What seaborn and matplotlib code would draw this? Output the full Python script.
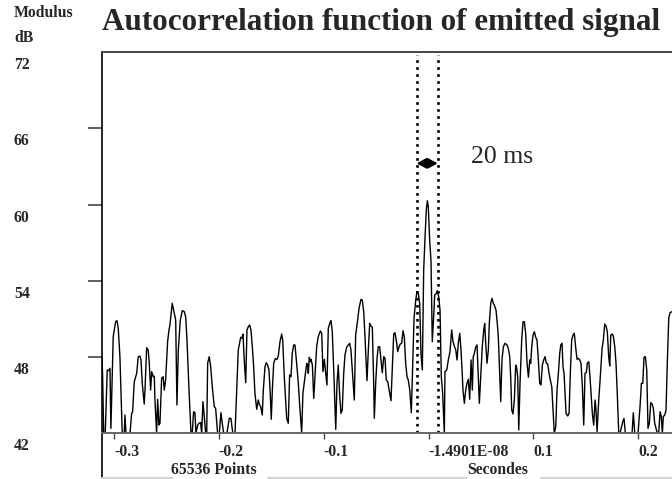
import matplotlib
matplotlib.use("Agg")
import matplotlib.pyplot as plt
import matplotlib.transforms as mtransforms
from matplotlib.lines import Line2D
import pandas as pd
import seaborn as sns

# lag (s) and modulus (dB), clipped at 42 dB
lag_s = [
    -0.3115, -0.3109, -0.3099, -0.3084, -0.3065, -0.3052, -0.3039, -0.3030, -0.3008, -0.2985,
    -0.2972, -0.2960, -0.2944, -0.2922, -0.2903, -0.2896, -0.2886, -0.2848, -0.2832, -0.2823,
    -0.2807, -0.2784, -0.2769, -0.2753, -0.2743, -0.2731, -0.2712, -0.2705, -0.2689, -0.2674,
    -0.2664, -0.2651, -0.2641, -0.2626, -0.2616, -0.2610, -0.2594, -0.2584, -0.2572, -0.2562,
    -0.2546, -0.2531, -0.2521, -0.2508, -0.2489, -0.2476, -0.2467, -0.2445, -0.2432, -0.2412,
    -0.2400, -0.2387, -0.2368, -0.2349, -0.2330, -0.2317, -0.2304, -0.2285, -0.2266, -0.2254,
    -0.2241, -0.2228,
    -0.2219, -0.2202, -0.2190, -0.2174, -0.2164, -0.2152, -0.2139, -0.2126, -0.2116, -0.2107,
    -0.2092, -0.2078, -0.2063, -0.2044, -0.2031, -0.2012, -0.1996, -0.1980, -0.1968, -0.1954,
    -0.1923, -0.1901, -0.1885, -0.1868, -0.1846, -0.1830, -0.1815, -0.1792, -0.1780, -0.1770,
    -0.1758, -0.1744, -0.1732, -0.1719, -0.1706, -0.1694, -0.1681, -0.1668, -0.1656, -0.1639,
    -0.1624, -0.1615, -0.1601, -0.1586, -0.1576, -0.1560, -0.1548, -0.1535, -0.1522, -0.1510,
    -0.1500, -0.1490, -0.1477, -0.1462, -0.1446, -0.1433, -0.1417, -0.1401, -0.1391, -0.1376,
    -0.1353, -0.1338, -0.1325, -0.1312, -0.1300, -0.1286,
    -0.1274, -0.1258, -0.1242, -0.1226, -0.1210, -0.1198, -0.1178, -0.1162, -0.1153, -0.1147,
    -0.1137, -0.1128, -0.1121, -0.1108, -0.1095, -0.1083, -0.1067, -0.1052, -0.1032, -0.1019,
    -0.1007, -0.0994, -0.0981, -0.0969, -0.0956, -0.0940, -0.0930, -0.0918, -0.0902, -0.0885,
    -0.0873, -0.0861, -0.0847, -0.0835, -0.0823, -0.0809, -0.0797, -0.0781, -0.0765, -0.0752,
    -0.0740, -0.0727, -0.0708, -0.0695, -0.0676, -0.0663, -0.0644, -0.0632, -0.0618, -0.0606,
    -0.0587, -0.0574, -0.0561, -0.0549, -0.0536, -0.0523, -0.0517, -0.0504, -0.0491, -0.0479,
    -0.0466, -0.0453, -0.0441, -0.0427, -0.0415, -0.0403, -0.0389, -0.0370, -0.0358, -0.0345,
    -0.0332,
    -0.0320, -0.0303, -0.0294, -0.0281, -0.0269, -0.0256, -0.0243, -0.0231, -0.0218, -0.0205,
    -0.0193, -0.0179, -0.0164, -0.0151, -0.0138, -0.0122, -0.0110, -0.0097, -0.0084, -0.0072,
    -0.0059, -0.0046, -0.0033, -0.0021, -0.0011, -0.0002, 0.0011, 0.0024, 0.0036, 0.0050,
    0.0059, 0.0074, 0.0084, 0.0097, 0.0110, 0.0122, 0.0135, 0.0151, 0.0157, 0.0174,
    0.0189, 0.0205, 0.0221, 0.0234, 0.0246, 0.0260, 0.0272, 0.0284, 0.0298, 0.0310,
    0.0320, 0.0329, 0.0342, 0.0355, 0.0367, 0.0380, 0.0393, 0.0406, 0.0418, 0.0427,
    0.0437, 0.0450, 0.0463, 0.0472, 0.0485, 0.0501, 0.0513, 0.0527, 0.0536, 0.0546,
    0.0558, 0.0571, 0.0580, 0.0594, 0.0606, 0.0618, 0.0628,
    0.0644, 0.0656, 0.0666, 0.0679, 0.0689, 0.0701, 0.0714, 0.0730, 0.0749, 0.0761,
    0.0775, 0.0784, 0.0794, 0.0806, 0.0819, 0.0832, 0.0842, 0.0851, 0.0861, 0.0873,
    0.0889, 0.0902, 0.0914, 0.0927, 0.0940, 0.0953, 0.0966, 0.0975, 0.0985, 0.0997,
    0.1010, 0.1023, 0.1035, 0.1048, 0.1061, 0.1073, 0.1086, 0.1099, 0.1112, 0.1124,
    0.1137, 0.1150, 0.1162, 0.1176, 0.1188, 0.1200, 0.1214, 0.1226, 0.1239, 0.1252,
    0.1262, 0.1274, 0.1283, 0.1293, 0.1302, 0.1312, 0.1328, 0.1341, 0.1353, 0.1366,
    0.1379, 0.1391, 0.1405, 0.1417, 0.1429, 0.1443, 0.1455, 0.1468, 0.1481, 0.1493,
    0.1506, 0.1515, 0.1529, 0.1538, 0.1551, 0.1563,
    0.1576, 0.1589, 0.1598, 0.1608, 0.1624, 0.1639, 0.1656, 0.1668, 0.1681, 0.1694,
    0.1706, 0.1719, 0.1729, 0.1739, 0.1751, 0.1763, 0.1777, 0.1789, 0.1802, 0.1815,
    0.1827, 0.1853, 0.1865, 0.1878, 0.1942, 0.1954, 0.1968, 0.1999, 0.2018, 0.2031,
    0.2044, 0.2056, 0.2069, 0.2082, 0.2094, 0.2107, 0.2120, 0.2133, 0.2145, 0.2158,
    0.2183, 0.2197, 0.2209, 0.2221, 0.2231, 0.2240, 0.2254, 0.2266, 0.2279, 0.2292,
    0.2304, 0.2323,
]

level_db = [
    48.0, 46.45, 42.0, 42.0, 46.98, 46.93, 47.11, 42.39, 49.6, 50.78,
    50.86, 50.26, 48.03, 42.0, 42.0, 43.44, 42.0, 42.0, 43.57, 43.7,
    46.06, 46.72, 48.03, 48.08, 47.77, 45.93, 44.3, 45.4, 48.73, 48.55,
    47.5, 45.4, 46.85, 46.45, 46.5, 44.62, 42.0, 44.68, 42.65, 42.79,
    46.33, 46.45, 45.4, 46.19, 49.21, 50.13, 50.52, 52.23, 51.7, 50.91,
    44.23, 48.55, 50.91, 51.65, 51.57, 51.18, 49.34, 45.4, 42.0, 42.05,
    43.7, 43.62,
    42.0, 42.65, 42.79, 42.84, 42.0, 44.49, 43.31, 42.0, 42.0, 47.51,
    48.03, 47.24, 45.67, 44.09, 43.97, 42.0, 42.0, 43.62, 42.79, 42.0,
    42.0, 43.18, 43.18, 42.05, 42.0, 45.4, 48.55, 49.55, 49.47, 49.81,
    47.77, 45.98, 50.13, 50.39, 50.52, 50.13, 48.81, 47.24, 45.15, 43.89,
    44.62, 44.31, 44.09, 43.44, 45.4, 47.24, 47.55, 47.37, 46.98, 45.15,
    43.1, 45.4, 47.51, 47.87, 47.82, 48.08, 49.21, 49.81, 49.34, 46.45,
    43.18, 42.79, 46.59, 46.45, 48.29, 48.95,
    48.95, 47.51, 45.93, 43.83, 42.05, 45.15, 46.45, 47.51, 47.37, 46.72,
    47.98, 47.63, 47.82, 47.37, 44.75, 46.45, 48.81, 49.6, 50.05, 49.87,
    46.85, 47.82, 46.72, 45.8, 50.26, 50.7, 50.86, 49.99, 46.45, 42.31,
    45.93, 47.37, 44.88, 43.57, 43.83, 46.72, 48.16, 48.77, 48.95, 49.08,
    48.55, 46.98, 44.62, 49.73, 50.91, 51.83, 52.54, 52.49, 51.57, 49.6,
    46.14, 48.55, 50.65, 50.44, 50.34, 45.93, 43.18, 45.93, 47.9, 48.81,
    48.81, 47.77, 46.77, 48.03, 47.9, 46.19, 46.06, 45.15, 44.56, 47.24,
    49.81,
    49.92, 49.08, 48.42, 48.81, 49.03, 49.08, 50.07, 49.6, 47.51, 46.45,
    46.19, 45.4, 43.62, 47.24, 51.05, 52.49, 53.14, 53.01, 52.23, 48.29,
    46.98, 54.85, 57.47, 59.57, 60.3, 59.83, 57.21, 55.5, 49.21, 51.31,
    52.88, 53.01, 53.22, 52.75, 51.7, 46.45, 45.15, 42.0, 46.85, 46.98,
    47.77, 48.42, 50.13, 49.21, 48.87, 48.55, 47.77, 49.08, 49.87, 48.55,
    46.98, 45.4, 44.36, 45.4, 45.93, 46.25, 44.68, 47.77, 45.4, 48.03,
    48.29, 48.77, 48.95, 46.98, 44.36, 46.98, 48.81, 50.13, 50.65, 49.08,
    47.51, 48.55, 50.65, 52.23, 52.62, 52.23, 52.09,
    51.7, 50.65, 49.6, 46.72, 44.49, 47.77, 48.81, 49.08, 48.95, 48.69,
    48.03, 46.45, 43.83, 43.52, 44.62, 47.37, 47.11, 46.45, 42.26, 45.93,
    49.34, 50.78, 50.78, 49.87, 47.51, 46.41, 47.77, 47.51, 48.81, 49.73,
    49.99, 49.55, 49.34, 47.77, 45.93, 45.8, 47.37, 47.77, 48.03, 47.51,
    47.45, 46.72, 46.19, 45.67, 43.83, 42.0, 42.52, 45.4, 46.72, 48.29,
    48.95, 49.08, 47.24, 46.72, 45.15, 43.57, 43.36, 43.57, 46.72, 49.34,
    49.73, 49.87, 48.69, 47.82, 47.9, 47.77, 47.51, 45.67, 42.65, 46.72,
    46.77, 47.51, 47.63, 46.72, 45.15, 43.57,
    42.65, 44.62, 43.83, 42.13, 44.62, 46.45, 48.69, 49.34, 50.6, 50.44,
    49.99, 48.03, 47.3, 49.73, 49.81, 49.66, 48.81, 47.51, 44.88, 42.0,
    42.0, 42.91, 43.18, 42.0, 42.0, 43.62, 42.0, 42.0, 44.09, 45.93,
    45.93, 47.98, 48.03, 46.98, 42.39, 42.79, 44.41, 44.31, 43.97, 42.79,
    42.0, 42.13, 43.7, 43.31, 42.0, 43.31, 43.44, 43.83, 47.77, 51.05,
    51.49, 51.57,
]

y_labels = [42, 48, 54, 60, 66, 72]
y_tick_marks = [48, 54, 60, 66]
x_ticks = [-0.3, -0.2, -0.1, 0.0, 0.1, 0.2]
x_tick_labels = ["-0.3", "-0.2", "-0.1", "-1.4901E-08", "0.1", "0.2"]
marker_lags = [-0.0113, 0.0087]
marker_level = 63.24
x_range = (-0.3115, 0.2323)
y_range = (42, 72)

small = 11.3

sns.set_style("white")
plt.rcParams["font.family"] = ["Liberation Serif", "DejaVu Serif"]

fig = plt.figure(figsize=(6.72, 4.79), dpi=100)
ax = fig.add_axes([102 / 672, 45.7 / 479, 570 / 672, 381.3 / 479])

df = pd.DataFrame({"lag": lag_s, "level": level_db})
sns.lineplot(data=df, x="lag", y="level", ax=ax, color="black", lw=1.0,
             estimator=None, sort=False)
ax.set_xlim(*x_range)
ax.set_ylim(*y_range)
ax.set_xlabel("")
ax.set_ylabel("")

# frame
ax.spines["right"].set_visible(False)
ax.spines["left"].set_visible(False)
ax.spines["top"].set_color("#444444")
ax.spines["top"].set_linewidth(1.4)
ax.spines["bottom"].set_color("#666666")
ax.spines["bottom"].set_linewidth(1.4)
ax.plot([0, 0], [-0.125, 1], transform=ax.transAxes, color="black",
        lw=1.2, clip_on=False)

# y axis: ticks without labels, labels drawn under each tick
ax.set_yticks(y_tick_marks)
ax.set_yticklabels([])
ax.tick_params(axis="y", direction="out", length=10, width=1.2, color="#444444", left=True)
lab_tr = mtransforms.blended_transform_factory(fig.transFigure, ax.transData)
lab_tr = lab_tr + mtransforms.ScaledTranslation(0, -5 / 100, fig.dpi_scale_trans)
for v in y_labels:
    ax.text(14 / 672, v, str(v), transform=lab_tr, ha="left", va="top",
            fontsize=small, fontweight="bold")

# x axis
ax.set_xticks(x_ticks)
ax.set_xticklabels(x_tick_labels, ha="left", fontsize=small, fontweight="bold")
ax.tick_params(axis="x", direction="out", length=4.5, width=1.0, color="#444444",
               pad=3.5, bottom=True)

fig.text(214 / 672, 1 - 470 / 479, "65536 Points", ha="center", va="center",
         fontsize=small, fontweight="bold")
fig.text(498 / 672, 1 - 470 / 479, "Secondes", ha="center", va="center",
         fontsize=small, fontweight="bold")
for x0, x1 in [(102, 172), (268, 466), (541, 672)]:
    fig.add_artist(Line2D([x0 / 672, x1 / 672], [1.5 / 479, 1.5 / 479],
                          transform=fig.transFigure, color="#d4d4d4", lw=1.5))

fig.text(14 / 672, 1 - 13 / 479, "Modulus", ha="left", va="center",
         fontsize=small, fontweight="bold")
fig.text(14 / 672, 1 - 38 / 479, "dB", ha="left", va="center",
         fontsize=small, fontweight="bold")
fig.text(381 / 672, 1 - 30 / 479, "Autocorrelation function of emitted signal",
         ha="center", va="baseline", fontsize=22.4, fontweight="bold")

# 20 ms markers
ax.vlines(marker_lags, y_range[0], 71.8, colors="black", linestyles=":", lw=1.9)
ax.annotate("", xy=(marker_lags[1], marker_level), xytext=(marker_lags[0], marker_level),
            arrowprops=dict(arrowstyle="<|-|>,head_length=0.55,head_width=0.3",
                            color="black", lw=1.6, shrinkA=0, shrinkB=0,
                            mutation_scale=10))
ax.text(0.0405, marker_level, "20 ms", fontsize=18.5, ha="left", va="baseline")

fig.savefig("out.png", dpi=100)
